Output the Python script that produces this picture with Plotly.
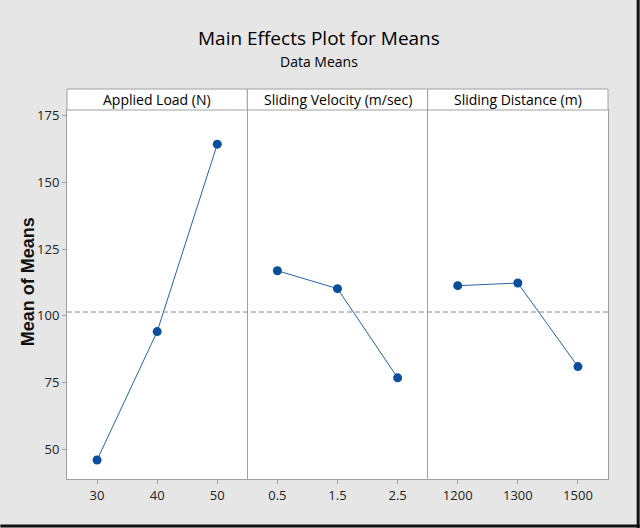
import plotly.graph_objects as go
from plotly.subplots import make_subplots

# ---- data ----
factors = ["Applied Load (N)", "Sliding Velocity (m/sec)", "Sliding Distance (m)"]
load_levels = ["30", "40", "50"]
load_means = [46.0, 94.1, 164.3]
velocity_levels = ["0.5", "1.5", "2.5"]
velocity_means = [116.9, 110.2, 76.8]
distance_levels = ["1200", "1300", "1500"]
distance_means = [111.3, 112.3, 81.0]
y_ticks = [50, 75, 100, 125, 150, 175]

levels = [load_levels, velocity_levels, distance_levels]
means = [load_means, velocity_means, distance_means]
all_vals = load_means + velocity_means + distance_means
grand_mean = sum(all_vals) / len(all_vals)

BG = "#e6e6e6"
GRID = "#a0a0a0"
LINE = "#2a62a8"
MARK = "#0b4f9c"
FONT = "Open Sans"

fig = make_subplots(rows=1, cols=3, shared_yaxes=True, horizontal_spacing=0)

for i in range(3):
    fig.add_trace(
        go.Scatter(
            x=levels[i], y=means[i], mode="lines+markers",
            line=dict(color=LINE, width=1),
            marker=dict(color=MARK, size=9, symbol="circle"),
            showlegend=False, hoverinfo="x+y",
        ),
        row=1, col=i + 1,
    )
    fig.update_xaxes(
        type="category", range=[-0.5, 2.5],
        showline=True, mirror=True, linecolor=GRID, linewidth=1,
        ticks="outside", ticklen=4, tickcolor=GRID,
        showgrid=False, zeroline=False,
        tickfont=dict(family=FONT, size=13, color="#222"),
        row=1, col=i + 1,
    )
    fig.update_yaxes(
        range=[38.9, 177.1], tickvals=y_ticks,
        showline=(i != 1), mirror=True, linecolor=GRID, linewidth=1,
        showgrid=False, zeroline=False,
        ticks="outside" if i == 0 else "", ticklen=4, tickcolor=GRID,
        showticklabels=(i == 0),
        tickfont=dict(family=FONT, size=13, color="#222"),
        row=1, col=i + 1,
    )

# reference line at grand mean
fig.add_shape(type="line", xref="paper", yref="y", x0=0, x1=1,
              y0=grand_mean, y1=grand_mean,
              line=dict(color="#8a8a8a", width=1, dash="5px,3px"))

# header strips
hdr_top = 1 + 21 / 369
for i, name in enumerate(factors):
    fig.add_shape(type="rect", xref="paper", yref="paper",
                  x0=i / 3, x1=(i + 1) / 3, y0=1, y1=hdr_top,
                  fillcolor="white", line=dict(color=GRID, width=1))
    fig.add_annotation(xref="paper", yref="paper", x=(i + 0.5) / 3,
                       y=(1 + hdr_top) / 2, text=name, showarrow=False,
                       font=dict(family=FONT, size=14, color="#000"),
                       xanchor="center", yanchor="middle")

# y-axis title
fig.add_annotation(xref="paper", yref="paper", x=-0.0715, y=0.534,
                   text="<b>Mean of Means</b>", textangle=-90, showarrow=False,
                   font=dict(family="Liberation Sans", size=18, color="#111"),
                   xanchor="center", yanchor="middle")

# titles
fig.add_annotation(xref="paper", yref="paper", x=(319 - 66.7) / 541.6,
                   y=(479 - 38) / 369, text="Main Effects Plot for Means",
                   showarrow=False, font=dict(family=FONT, size=19, color="#000"),
                   xanchor="center", yanchor="middle")
fig.add_annotation(xref="paper", yref="paper", x=(319 - 66.7) / 541.6,
                   y=(479 - 62) / 369, text="Data Means",
                   showarrow=False, font=dict(family=FONT, size=14, color="#000"),
                   xanchor="center", yanchor="middle")

# dark frame on right and bottom edges
fig.add_shape(type="line", xref="paper", yref="paper",
              x0=(638.5 - 66.7) / 541.6, x1=(638.5 - 66.7) / 541.6,
              y0=(479 - 528) / 369, y1=(479 - 0) / 369,
              line=dict(color="#111", width=3))
fig.add_shape(type="line", xref="paper", yref="paper",
              x0=(0 - 66.7) / 541.6, x1=(640 - 66.7) / 541.6,
              y0=(479 - 526) / 369, y1=(479 - 526) / 369,
              line=dict(color="#111", width=3))

fig.update_layout(
    width=640, height=528,
    margin=dict(l=67, r=32, t=110, b=49),
    paper_bgcolor=BG, plot_bgcolor="white",
    font=dict(family=FONT),
)

fig.write_html("out.html", config={"displayModeBar": False},
               post_script="document.body.style.margin='0';document.body.style.overflow='hidden';")
